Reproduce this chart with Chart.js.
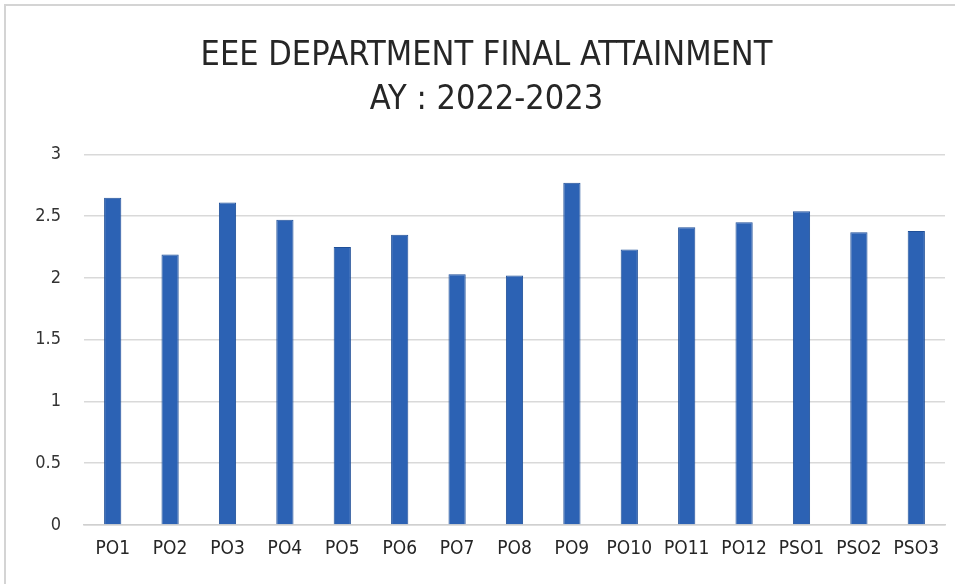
<!DOCTYPE html>
<html lang="en">
<head>
  <meta charset="UTF-8">
  <title>EEE Department Final Attainment</title>
  <script src="https://cdn.jsdelivr.net/npm/chart.js"></script>
  <style>
    html, body { margin: 0; padding: 0; background: #fff; }
    #wrap { position: relative; width: 955px; height: 584px; }
  </style>
</head>
<body>
  <div id="wrap">
    <canvas id="attainChart" width="955" height="584"></canvas>
  </div>

  <script>
    const categories = ['PO1', 'PO2', 'PO3', 'PO4', 'PO5', 'PO6', 'PO7', 'PO8', 'PO9', 'PO10', 'PO11', 'PO12', 'PSO1', 'PSO2', 'PSO3'];
    const attainment = [2.65, 2.19, 2.61, 2.47, 2.25, 2.35, 2.03, 2.02, 2.77, 2.23, 2.41, 2.45, 2.54, 2.37, 2.38];
    const titleLines = ['EEE DEPARTMENT FINAL ATTAINMENT', 'AY : 2022-2023'];

    const fontFamily = "'Liberation Sans Narrow', 'DejaVu Sans Condensed', 'Liberation Sans', sans-serif";

    // light frame around the chart, like the pasted Excel chart
    const framePlugin = {
      id: 'frame',
      beforeDraw(chart) {
        const ctx = chart.ctx;
        ctx.save();
        ctx.fillStyle = '#fff';
        ctx.fillRect(0, 0, chart.width, chart.height);
        ctx.strokeStyle = '#d4d4d4';
        ctx.lineWidth = 2;
        ctx.beginPath();
        ctx.moveTo(5, chart.height);
        ctx.lineTo(5, 5);
        ctx.lineTo(chart.width, 5);
        ctx.stroke();
        ctx.restore();
      }
    };

    new Chart(document.getElementById('attainChart'), {
      type: 'bar',
      data: {
        labels: categories,
        datasets: [{
          label: 'Attainment',
          data: attainment,
          backgroundColor: '#2c62b4',
          borderColor: '#1f4f98',
          borderWidth: 1,
          categoryPercentage: 1,
          barPercentage: 0.3
        }]
      },
      options: {
        responsive: false,
        animation: false,
        layout: { padding: { left: 28, right: 10, top: 0, bottom: 0 } },
        plugins: {
          legend: { display: false },
          tooltip: { enabled: false },
          title: {
            display: true,
            text: titleLines,
            color: '#262626',
            font: { family: fontFamily, size: 34, weight: 'normal', lineHeight: 1.3 },
            padding: { top: 34, bottom: 32 }
          }
        },
        scales: {
          x: {
            grid: { display: false, drawTicks: false },
            border: { display: true, color: '#d0d0d0', width: 1.5 },
            ticks: {
              color: '#262626',
              padding: 13,
              maxRotation: 0,
              autoSkip: false,
              font: { family: fontFamily, size: 19 }
            },
            afterFit(scale) { scale.height = 59; }
          },
          y: {
            min: 0,
            max: 3,
            ticks: {
              stepSize: 0.5,
              color: '#333',
              padding: 23,
              font: { family: fontFamily, size: 18 },
              callback: v => String(v)
            },
            grid: { color: '#d9d9d9', lineWidth: 1.5, drawTicks: false },
            border: { display: false },
            afterFit(scale) { scale.width = 56; }
          }
        }
      },
      plugins: [framePlugin]
    });
  </script>
</body>
</html>
